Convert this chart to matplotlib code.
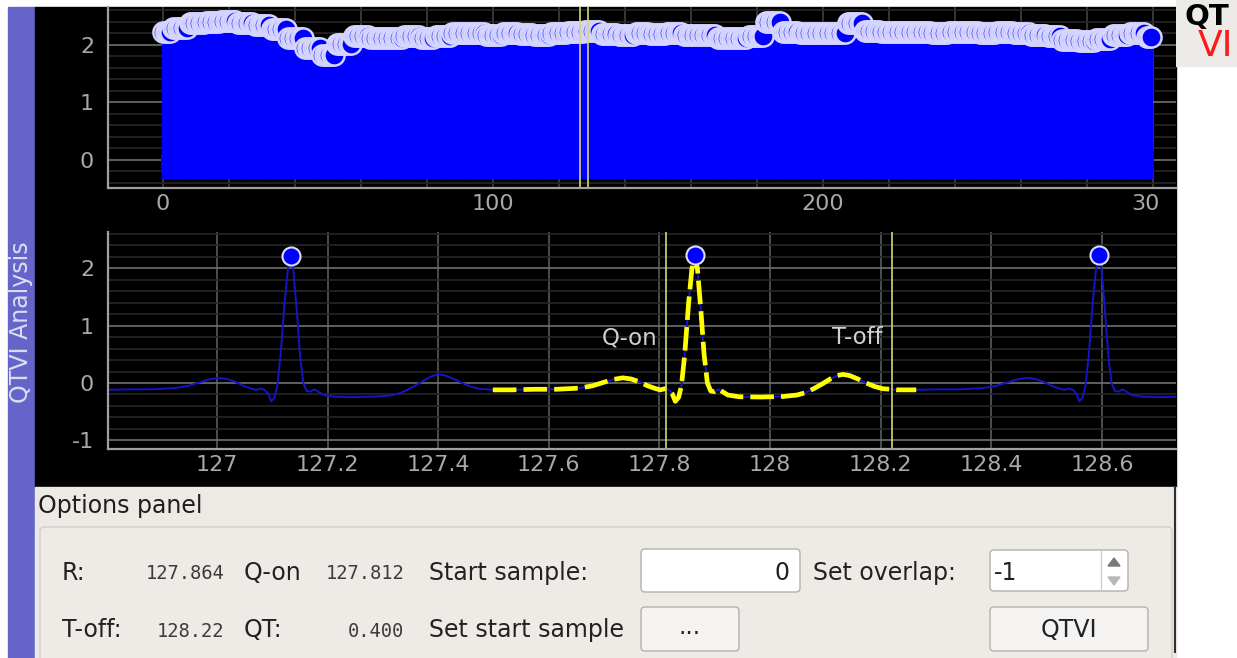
import numpy as np
import matplotlib
matplotlib.use('Agg')
import matplotlib.pyplot as plt
from matplotlib.patches import Rectangle, FancyBboxPatch, Polygon
from matplotlib.ticker import FixedLocator, MultipleLocator, FuncFormatter
from matplotlib.transforms import Bbox

plt.rcParams['axes.unicode_minus'] = False
plt.rcParams['font.family'] = ['DejaVu Sans']

# one heartbeat: seconds from R peak, amplitude
tmpl_dt = [-0.365, -0.33, -0.29, -0.25, -0.21, -0.185, -0.165, -0.148, -0.13, -0.115,
           -0.10, -0.085, -0.07, -0.062, -0.054, -0.047, -0.041, -0.035, -0.029, -0.024,
           -0.018, -0.011, -0.005, 0.0, 0.005, 0.011, 0.017, 0.023, 0.029, 0.036,
           0.043, 0.050, 0.060, 0.08, 0.12, 0.16, 0.185, 0.20, 0.215, 0.23,
           0.245, 0.258, 0.268, 0.28, 0.295, 0.31, 0.325, 0.34, 0.355, 0.365]
tmpl_val = [-0.12, -0.12, -0.11, -0.11, -0.09, -0.05, 0.01, 0.06, 0.09, 0.07,
            0.02, -0.05, -0.10, -0.12, -0.10, -0.12, -0.18, -0.32, -0.25, -0.05,
            0.50, 1.40, 2.00, 2.25, 2.00, 1.30, 0.50, 0.00, -0.14, -0.15,
            -0.11, -0.15, -0.21, -0.24, -0.245, -0.235, -0.21, -0.17, -0.10, -0.02,
            0.07, 0.13, 0.15, 0.13, 0.07, 0.00, -0.06, -0.10, -0.11, -0.12]

rr_interval = 0.73065
n_beats = 411

# R-peak height along the whole record, read every 5 s
amp_times = list(range(0, 305, 5))
amp_vals = [2.23, 2.30, 2.38, 2.40, 2.42, 2.38, 2.34, 2.27, 2.12, 1.95,
            1.82, 2.02, 2.15, 2.12, 2.12, 2.15, 2.12, 2.16, 2.20, 2.20,
            2.18, 2.20, 2.19, 2.18, 2.20, 2.22, 2.24, 2.19, 2.18, 2.20,
            2.19, 2.21, 2.18, 2.17, 2.12, 2.12, 2.15, 2.40, 2.22, 2.20,
            2.21, 2.20, 2.38, 2.25, 2.22, 2.23, 2.22, 2.21, 2.23, 2.22,
            2.21, 2.22, 2.20, 2.18, 2.15, 2.08, 2.06, 2.10, 2.18, 2.20, 2.14]

r_peak = 127.864
q_on = 127.812
t_off = 128.22
qt_val = 0.400
seg_start, seg_end = 127.49, 128.30
win_lines = [126.25, 128.70]

# ---- build the record from the beat template
tdt = np.array(tmpl_dt)
tv = np.array(tmpl_val)
r_times = np.arange(n_beats) * rr_interval
r_amps = np.array(amp_vals)[np.clip(np.round(r_times / 5).astype(int), 0, len(amp_vals) - 1)]
qrs = (np.abs(tdt) < 0.025) & (tv > 0)
t_parts, v_parts = [], []
for rt, a in zip(r_times, r_amps):
    v = tv.copy()
    v[qrs] = v[qrs] * a / tv.max()
    t_parts.append(rt + tdt[:-1])
    v_parts.append(v[:-1])
t_sig = np.concatenate(t_parts)
v_sig = np.concatenate(v_parts)

W, H = 1237, 658
fig = plt.figure(figsize=(W / 100, H / 100), dpi=100)
fig.patch.set_facecolor('white')

def fr(x0, y0, x1, y1):
    return [x0 / W, 1 - y1 / H, (x1 - x0) / W, (y1 - y0) / H]

# background drawn in pixel coordinates
bg = fig.add_axes([0, 0, 1, 1], zorder=0)
bg.set_xlim(0, W)
bg.set_ylim(H, 0)
bg.axis('off')
bg.add_patch(Rectangle((8, 7), 27, 651, color='#6565c9'))
bg.text(21, 322, 'QTVI Analysis', rotation=90, ha='center', va='center',
        color='#dcdcf2', fontsize=17)
bg.add_patch(Rectangle((35, 7), 1141, 480, color='black'))
bg.add_patch(Rectangle((1176, 0), 61, 66, color='#edebe8'))
bg.text(1185, 17, 'QT', fontsize=21, fontweight='bold', color='black', va='center')
bg.text(1198, 46, 'VI', fontsize=26, color='#ff1a1a', va='center')

# options panel
bg.add_patch(Rectangle((35, 487), 1141, 171, color='#edeae6'))
bg.text(38, 513, 'Options panel', fontsize=17, color='#1e1e1e', va='baseline')
bg.add_patch(FancyBboxPatch((40, 527), 1132, 140, boxstyle='round,pad=0,rounding_size=4',
                            fc='#eeebe7', ec='#d2cfca', lw=1))
bg.plot([1175, 1175], [487, 652], color='#303030', lw=1.5)

row1, row2 = 580, 637
gui_txt = dict(fontsize=17, color='#222222', va='baseline')
lcd_txt = dict(fontsize=13.5, color='#3c3c3c', va='baseline', ha='right', family='DejaVu Sans Mono')
bg.text(62, row1, 'R:', **gui_txt)
bg.text(224, row1 - 1, f'{r_peak:.3f}', **lcd_txt)
bg.text(244, row1, 'Q-on', **gui_txt)
bg.text(404, row1 - 1, f'{q_on:.3f}', **lcd_txt)
bg.text(429, row1, 'Start sample:', **gui_txt)
bg.text(62, row2, 'T-off:', **gui_txt)
bg.text(224, row2, f'{t_off:.2f}', **lcd_txt)
bg.text(244, row2, 'QT:', **gui_txt)
bg.text(404, row2, f'{qt_val:.3f}', **lcd_txt)
bg.text(429, row2, 'Set start sample', **gui_txt)
bg.text(813, row1, 'Set overlap:', **gui_txt)

box = dict(boxstyle='round,pad=0,rounding_size=4', lw=1, ec='#b4b1ac')
bg.add_patch(FancyBboxPatch((641, 549), 159, 43, fc='white', **box))
bg.text(790, row1, '0', ha='right', **gui_txt)
bg.add_patch(FancyBboxPatch((990, 550), 138, 41, fc='white', **box))
bg.text(994, row1, '-1', **gui_txt)
bg.plot([1101, 1101], [551, 590], color='#d0cdc8', lw=1)
bg.add_patch(Polygon([[1108, 566], [1120, 566], [1114, 558]], color='#7a7a7a'))
bg.add_patch(Polygon([[1108, 577], [1120, 577], [1114, 585]], color='#b8b8b8'))
bg.add_patch(FancyBboxPatch((641, 607), 98, 44, fc='#f4f3f2', **box))
bg.text(690, row2 - 3, '...', ha='center', **gui_txt)
bg.add_patch(FancyBboxPatch((990, 607), 158, 44, fc='#f4f3f2', **box))
bg.text(1069, row2, 'QTVI', ha='center', **gui_txt)

def style_axes(ax):
    ax.set_facecolor('black')
    for s in ['top', 'right']:
        ax.spines[s].set_visible(False)
    for s in ['left', 'bottom']:
        ax.spines[s].set_color('#a0a0a0')
        ax.spines[s].set_linewidth(1.6)
    ax.tick_params(which='both', length=0, colors='#a8a8a8', labelsize=16)
    ax.tick_params(axis='x', pad=4)
    ax.tick_params(axis='y', pad=10)
    ax.yaxis.set_minor_locator(MultipleLocator(0.2))
    ax.grid(True, which='major', axis='y', color='#707070', lw=1.2)
    ax.grid(True, which='minor', axis='y', color='#262626', lw=1.2)
    ax.set_axisbelow(True)

fmt = FuncFormatter(lambda v, p: f'{v:g}')

# ---- whole record
ax1 = fig.add_axes(fr(108, 7, 1176, 188), zorder=1)
style_axes(ax1)
ax1.plot(t_sig, v_sig, color='#0000ff', lw=1.8)
ax1.plot(r_times, r_amps, 'o', ms=14.5, mfc='#0000ff', mec='#d4d4ff', mew=1.8)
for x in win_lines:
    ax1.axvline(x, color='#d8d870', lw=1.2)
ax1.set_xlim(-16.7, 307)
ax1.set_ylim(-0.49, 2.66)
ax1.xaxis.set_major_locator(FixedLocator([0, 100, 200, 300]))
ax1.xaxis.set_minor_locator(MultipleLocator(20))
ax1.xaxis.set_major_formatter(fmt)
ax1.yaxis.set_major_locator(FixedLocator([0, 1, 2]))
ax1.yaxis.set_major_formatter(fmt)
ax1.grid(True, which='both', axis='x', color='#404040', lw=1.2)

# ---- zoomed window
ax2 = fig.add_axes(fr(108, 232, 1176, 449), zorder=1)
style_axes(ax2)
m = (t_sig > 126.6) & (t_sig < 129.0)
ax2.plot(t_sig[m], v_sig[m], color='#1414c8', lw=1.4)
s = (t_sig >= seg_start) & (t_sig <= seg_end)
ax2.plot(t_sig[s], v_sig[s], color='#ffff00', lw=3.4, dashes=(5, 1.5))
rm = (r_times > 126.8) & (r_times < 128.8)
ax2.plot(r_times[rm], r_amps[rm], 'o', ms=13, mfc='#0000ff', mec='#dcdcff', mew=1.5)
for x, lab in [(q_on, 'Q-on'), (t_off, 'T-off')]:
    ax2.axvline(x, color='#d8d870', lw=1.2)
    ax2.text(x - 0.016, 0.79, lab, ha='right', va='center', color='#d0d0d0', fontsize=16.5)
ax2.set_xlim(126.803, 128.734)
ax2.set_ylim(-1.152, 2.635)
ax2.xaxis.set_major_locator(MultipleLocator(0.2))
ax2.xaxis.set_major_formatter(fmt)
ax2.yaxis.set_major_locator(FixedLocator([-1, 0, 1, 2]))
ax2.yaxis.set_major_formatter(fmt)
ax2.grid(True, which='major', axis='x', color='#5a5a5a', lw=1.2)

# the canvas cuts off the last tick label of the top axis
fig.canvas.draw()
for lab in ax1.get_xticklabels():
    lab.set_clip_box(Bbox.from_extents(0, 0, 1160, H))
    lab.set_clip_on(True)

fig.savefig('out.png', dpi=100)
